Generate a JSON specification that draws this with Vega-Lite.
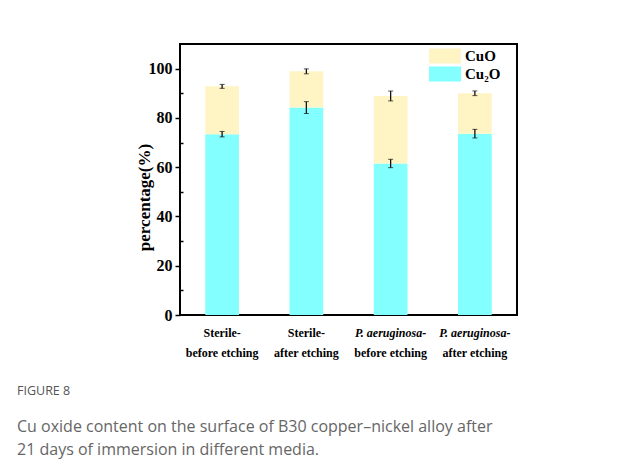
{
  "$schema": "https://vega.github.io/schema/vega-lite/v6.json",
  "autosize": {"type": "none"},
  "padding": {"left": 180, "top": 44, "right": 126, "bottom": 160},
  "width": 337,
  "height": 271,
  "background": "white",
  "config": {
    "view": {"stroke": "#000", "strokeWidth": 2},
    "font": "Liberation Serif"
  },
  "title": {
    "text": "FIGURE 8",
    "subtitle": ["Cu oxide content on the surface of B30 copper–nickel alloy after", "21 days of immersion in different media."],
    "orient": "bottom",
    "anchor": "start",
    "frame": "group",
    "dx": -163,
    "offset": 27,
    "font": "Open Sans",
    "fontSize": 12.5,
    "fontWeight": "normal",
    "color": "#555555",
    "subtitleFont": "Open Sans",
    "subtitleFontSize": 16,
    "subtitleColor": "#666666",
    "subtitleLineHeight": 23,
    "subtitlePadding": 21
  },
  "data": {
    "values": [
      {"group": "Sterile-|before etching", "oxide": "Cu₂O", "low": 0, "high": 73.4, "err": 1.1},
      {"group": "Sterile-|before etching", "oxide": "CuO", "low": 73.4, "high": 92.8, "err": 0.8},
      {"group": "Sterile-|after etching", "oxide": "Cu₂O", "low": 0, "high": 84.2, "err": 2.4},
      {"group": "Sterile-|after etching", "oxide": "CuO", "low": 84.2, "high": 98.9, "err": 1.0},
      {"group": "P. aeruginosa-|before etching", "oxide": "Cu₂O", "low": 0, "high": 61.5, "err": 1.7},
      {"group": "P. aeruginosa-|before etching", "oxide": "CuO", "low": 61.5, "high": 88.9, "err": 2.0},
      {"group": "P. aeruginosa-|after etching", "oxide": "Cu₂O", "low": 0, "high": 73.6, "err": 1.75},
      {"group": "P. aeruginosa-|after etching", "oxide": "CuO", "low": 73.6, "high": 90.0, "err": 0.95}
    ]
  },
  "layer": [
    {
      "mark": {"type": "bar", "opacity": 1},
      "encoding": {
        "x": {
          "field": "group", "type": "nominal", "sort": null,
          "scale": {"paddingInner": 0.6, "paddingOuter": 0.3},
          "axis": {
            "title": null, "ticks": false, "domain": false, "labelAngle": 0,
            "labelExpr": "split(datum.label, '|')[0]",
            "labelPadding": 12, "labelFontSize": 12, "labelFontWeight": "bold",
            "labelFont": "Liberation Serif", "labelColor": "#000",
            "labelFontStyle": {"condition": {"test": "test(/aeruginosa/, datum.value)", "value": "italic"}, "value": "normal"}
          }
        },
        "y": {
          "field": "high", "type": "quantitative",
          "scale": {"domain": [0, 110], "nice": false},
          "axis": {
            "values": [0, 20, 40, 60, 80, 100], "grid": false, "domain": false,
            "tickSize": 5, "tickWidth": 1.5, "tickColor": "#000",
            "labelPadding": 3, "labelFontSize": 16, "labelFontWeight": "bold",
            "labelFont": "Liberation Serif", "labelColor": "#000",
            "title": "percentage(%)", "titleFont": "Liberation Serif", "titleFontSize": 17,
            "titleFontWeight": "bold", "titleColor": "#000", "titlePadding": -5, "titleY": 153
          }
        },
        "y2": {"field": "low"},
        "color": {
          "field": "oxide", "type": "nominal",
          "scale": {"domain": ["CuO", "Cu₂O"], "range": ["#FFF4C4", "#84FFFF"]},
          "legend": {
            "orient": "none", "legendX": 257, "legendY": 4, "title": null,
            "symbolType": "M-2,-0.94H2V0.94H-2Z", "symbolSize": 256,
            "symbolStrokeWidth": 0, "rowPadding": 2, "labelOffset": 12,
            "labelFont": "Liberation Serif", "labelFontSize": 15, "labelFontWeight": "bold",
            "labelColor": "#000"
          }
        }
      }
    },
    {
      "mark": {"type": "errorbar", "color": "#111", "ticks": {"size": 5, "strokeWidth": 1.3}, "rule": {"strokeWidth": 1.3}},
      "encoding": {
        "x": {
          "field": "group", "type": "nominal", "sort": null,
          "axis": {
            "orient": "bottom", "title": null, "ticks": false, "domain": false, "labelAngle": 0,
            "labelExpr": "split(datum.label, '|')[1]",
            "labelPadding": 32, "labelFontSize": 12, "labelFontWeight": "bold",
            "labelFont": "Liberation Serif", "labelColor": "#000"
          }
        },
        "y": {
          "field": "high", "type": "quantitative",
          "axis": {
            "orient": "left", "values": [10, 30, 50, 70, 90], "labels": false, "grid": false,
            "domain": false, "title": null, "tickSize": -3, "tickWidth": 1.5, "tickColor": "#000"
          }
        },
        "yError": {"field": "err"}
      }
    }
  ],
  "resolve": {"axis": {"x": "independent", "y": "independent"}}
}
